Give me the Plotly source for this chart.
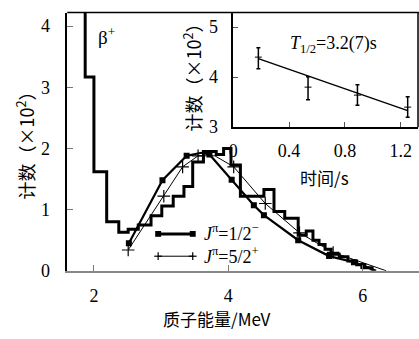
import plotly.graph_objects as go

# ---------------- data ----------------
# histogram (left bin edges, counts x100)
hist_edges = [1.70, 1.87, 2.00, 2.19, 2.37, 2.51, 2.66, 2.85, 3.01, 3.18, 3.34, 3.47, 3.63, 3.82, 3.93, 4.04,
              4.18, 4.35, 4.53, 4.68, 4.84, 5.04, 5.16, 5.26, 5.35, 5.44, 5.53, 5.65, 5.78, 5.91, 6.02]
hist_counts = [5.0, 3.17, 1.62, 0.80, 0.63, 0.68, 0.75, 0.90, 1.06, 1.22, 1.38, 1.78, 1.95, 1.90, 2.00, 1.73,
               1.22, 1.22, 1.33, 0.97, 0.86, 0.58, 0.65, 0.50, 0.43, 0.35, 0.27, 0.23, 0.16, 0.10, 0.05]

# J=1/2- calculation
e_half = [2.52, 3.02, 3.38, 3.60, 3.72, 4.05, 4.38, 4.53, 5.04, 5.50, 5.87, 6.01, 6.20]
c_half = [0.45, 1.48, 1.88, 1.93, 1.90, 1.49, 1.07, 0.91, 0.50, 0.24, 0.14, 0.08, 0.00]
half_marker_idx = [0, 1, 2, 4, 5, 6, 7, 8, 9, 10, 11]

# J=5/2+ calculation
e_five = [2.51, 3.04, 3.32, 3.55, 3.80, 4.08, 4.55, 5.06, 5.56, 6.35]
c_five = [0.34, 1.22, 1.70, 1.88, 1.88, 1.70, 1.10, 0.62, 0.30, 0.00]
five_marker_idx = [0, 1, 2, 3, 5, 6, 7, 8]

# inset: decay curve
t_points = [0.18, 0.536, 0.89, 1.25]
c_points = [4.40, 3.80, 3.64, 3.40]
err_plus = [0.19, 0.21, 0.21, 0.21]
err_minus = [0.23, 0.25, 0.20, 0.20]
fit_t = [0.18, 1.25]
fit_c = [4.37, 3.33]

main_xticks = [2, 4, 6]
main_yticks = [0, 1, 2, 3, 4]
inset_xticks = [0, 0.4, 0.8, 1.2]
inset_xlabels = ["0", "0.4", "0.8", "1.2"]
inset_yticks = [3, 4, 5]

W, H = 419, 339
SERIF = "Times New Roman"
CJK = "Noto Sans CJK SC"


def px_x(px):
    return px / W


def px_y(py):
    return 1 - py / H


fig = go.Figure()

# histogram
fig.add_trace(go.Scatter(x=hist_edges + [hist_edges[-1] + 0.12], y=hist_counts + [0],
                         mode="lines", line=dict(color="black", width=3, shape="hv"),
                         showlegend=False, xaxis="x", yaxis="y"))
# 1/2- calculation curve
fig.add_trace(go.Scatter(x=e_half, y=c_half, mode="lines", line=dict(color="black", width=2.2),
                         showlegend=False, xaxis="x", yaxis="y"))
fig.add_trace(go.Scatter(x=[e_half[i] for i in half_marker_idx], y=[c_half[i] for i in half_marker_idx],
                         mode="markers", marker=dict(symbol="square", size=6, color="black"),
                         showlegend=False, xaxis="x", yaxis="y"))
# 5/2+ calculation curve
fig.add_trace(go.Scatter(x=e_five, y=c_five, mode="lines", line=dict(color="black", width=1),
                         showlegend=False, xaxis="x", yaxis="y"))
fig.add_trace(go.Scatter(x=[e_five[i] for i in five_marker_idx], y=[c_five[i] for i in five_marker_idx],
                         mode="markers", marker=dict(symbol="cross-thin", size=9, color="black",
                                                     line=dict(color="black", width=1.2)),
                         showlegend=False, xaxis="x", yaxis="y"))

# inset
fig.add_trace(go.Scatter(x=fit_t, y=fit_c, mode="lines", line=dict(color="black", width=1.5),
                         showlegend=False, xaxis="x2", yaxis="y2"))
fig.add_trace(go.Scatter(x=t_points, y=c_points, mode="markers",
                         marker=dict(symbol="line-ew", size=5, color="black",
                                     line=dict(color="black", width=1)),
                         error_y=dict(type="data", array=err_plus, arrayminus=err_minus,
                                      color="black", thickness=1.5, width=2),
                         showlegend=False, xaxis="x2", yaxis="y2"))

main_dom_x = [px_x(63), 1.0]
main_dom_y = [px_y(279), px_y(13)]
ins_dom_x = [px_x(231), px_x(418)]
ins_dom_y = [px_y(131), px_y(13)]

axis_font = dict(family=SERIF, size=18, color="black")

fig.update_layout(
    width=W, height=H,
    margin=dict(l=0, r=0, t=0, b=0),
    paper_bgcolor="white", plot_bgcolor="white",
    showlegend=False,
    font=dict(family=SERIF, color="black"),
    xaxis=dict(domain=main_dom_x, range=[1.603, 6.838], tickvals=main_xticks,
               ticks="inside", ticklen=6, tickcolor="#777", showgrid=False, zeroline=False,
               showline=True, linecolor="#888", linewidth=2, mirror=False,
               tickfont=axis_font, anchor="y", ticklabelstandoff=8),
    yaxis=dict(domain=main_dom_y, range=[0, 4.222], tickvals=main_yticks,
               ticks="inside", ticklen=6, tickcolor="#777", showgrid=False, zeroline=False,
               showline=True, linecolor="black", linewidth=1.5,
               tickfont=axis_font, anchor="x", ticklabelstandoff=12),
    xaxis2=dict(domain=ins_dom_x, range=[0, 1.324], tickvals=inset_xticks, ticktext=inset_xlabels,
                ticks="inside", ticklen=5, tickcolor="#555", showgrid=False, zeroline=False,
                showline=True, linecolor="black", linewidth=1.5,
                tickfont=axis_font, anchor="y2", ticklabelstandoff=7),
    yaxis2=dict(domain=ins_dom_y, range=[3, 5.29], tickvals=inset_yticks,
                ticks="inside", ticklen=5, tickcolor="#555", showgrid=False, zeroline=False,
                showline=True, linecolor="black", linewidth=1.5,
                tickfont=axis_font, anchor="x2", ticklabelstandoff=10),
)

shapes = []
shapes.append(dict(type="line", xref="paper", yref="paper", x0=px_x(63), x1=1, y0=px_y(13), y1=px_y(13),
                   line=dict(color="black", width=1.5)))
shapes.append(dict(type="line", xref="paper", yref="paper", x0=px_x(418), x1=px_x(418), y0=px_y(131), y1=px_y(13),
                   line=dict(color="black", width=1.5)))
# legend samples
shapes.append(dict(type="line", xref="paper", yref="paper", x0=px_x(155), x1=px_x(191), y0=px_y(241), y1=px_y(241),
                   line=dict(color="black", width=3)))
for cx in (155, 190):
    shapes.append(dict(type="rect", xref="paper", yref="paper", x0=px_x(cx - 3), x1=px_x(cx + 3),
                       y0=px_y(244), y1=px_y(238), fillcolor="black", line=dict(width=0)))
shapes.append(dict(type="line", xref="paper", yref="paper", x0=px_x(155), x1=px_x(191), y0=px_y(264), y1=px_y(264),
                   line=dict(color="black", width=1)))
for cx in (155, 190):
    shapes.append(dict(type="line", xref="paper", yref="paper", x0=px_x(cx - 4), x1=px_x(cx + 4),
                       y0=px_y(264), y1=px_y(264), line=dict(color="black", width=1.2)))
    shapes.append(dict(type="line", xref="paper", yref="paper", x0=px_x(cx), x1=px_x(cx),
                       y0=px_y(260), y1=px_y(268), line=dict(color="black", width=1.2)))
fig.update_layout(shapes=shapes)

ann = []


def add_text(text, x, y, size=18, family=SERIF, angle=0, xanchor="center", yanchor="middle"):
    ann.append(dict(text=text, x=px_x(x), y=px_y(y), xref="paper", yref="paper", showarrow=False,
                    font=dict(family=family, size=size, color="black"), textangle=angle,
                    xanchor=xanchor, yanchor=yanchor))


add_text("质子能量/MeV", 215, 328, size=17, family=CJK)
add_text("计数（×10<sup>2</sup>）", 20, 145, size=18, family=CJK, angle=-90)
add_text("计数（×10<sup>2</sup>）", 189, 75, size=18, family=CJK, angle=-90)
add_text("时间/s", 323, 183, size=17, family=CJK)
add_text("β<sup>+</sup>", 92, 37, size=19, xanchor="left")
add_text("<i>T</i><sub>1/2</sub>=3.2(7)s", 286, 46, size=18, xanchor="left")
add_text("<i>J</i><sup>π</sup>=1/2<sup>−</sup>", 199, 240, size=18, xanchor="left")
add_text("<i>J</i><sup>π</sup>=5/2<sup>+</sup>", 199, 263, size=18, xanchor="left")
fig.update_layout(annotations=ann)

fig.write_html("out.html")
